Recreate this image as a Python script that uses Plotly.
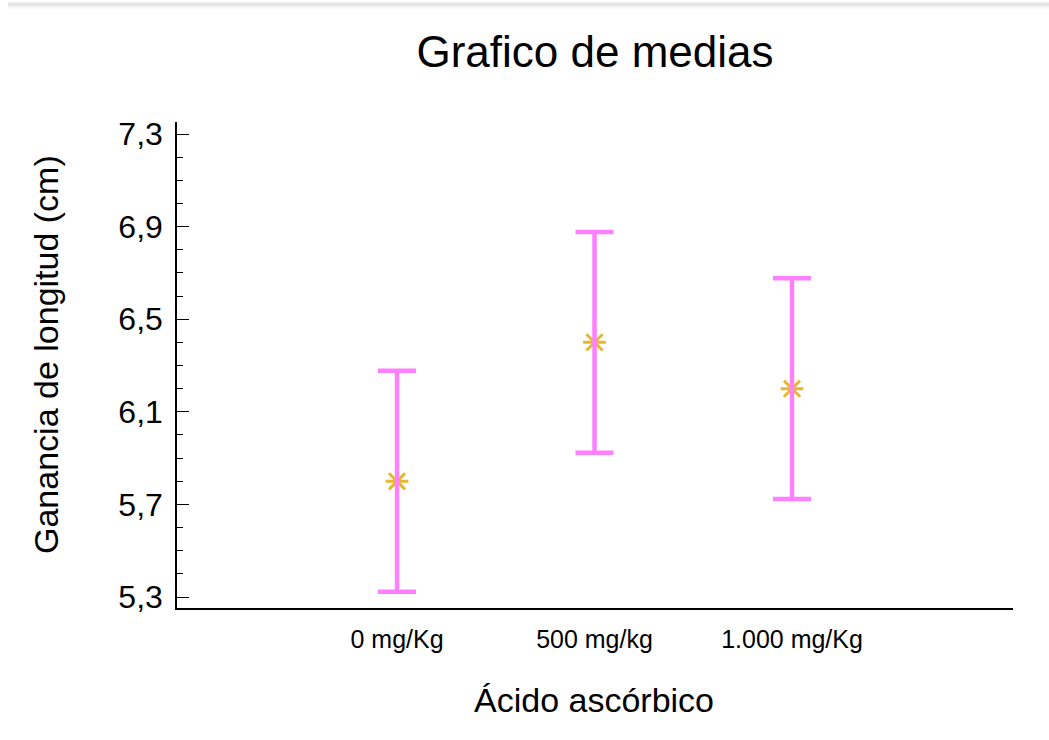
import plotly.graph_objects as go

# Means and LSD half-intervals for each ascorbic acid dose
categories = ["0 mg/Kg", "500 mg/kg", "1.000 mg/Kg"]
means = [5.80, 6.40, 6.20]
half_interval = [0.477, 0.477, 0.477]
y_ticks = [5.3, 5.7, 6.1, 6.5, 6.9, 7.3]

W, H = 1049, 740
L, R, T, B = 177, 36, 122, 132
plot_w, plot_h = W - L - R, H - T - B
pos = list(range(len(categories)))

fig = go.Figure()

# Mean markers
fig.add_trace(go.Scatter(
    x=pos, y=means, mode="markers",
    marker=dict(symbol="asterisk-open", size=19, color="#E6B830",
                line=dict(color="#E6B830", width=3)),
    showlegend=False, hoverinfo="skip",
))

# Interval bars drawn over the markers
fig.add_trace(go.Scatter(
    x=pos, y=means, mode="markers",
    marker=dict(size=1, color="rgba(0,0,0,0)"),
    error_y=dict(type="data", array=half_interval, visible=True,
                 color="#FF80FF", thickness=4.5, width=19),
    showlegend=False,
))

def px_x(p):
    return (p - L) / plot_w

def px_y(p):
    return (T + plot_h - p) / plot_h

# Soft shadow band along the top edge
shadow = [(2, "#f4f4f4"), (3, "#e8e8e8"), (4, "#dcdcdc"), (5, "#d8d8d8"),
          (6, "#e0e0e0"), (7, "#ececec"), (8, "#f6f6f6")]
shapes = []
for py, col in shadow:
    shapes.append(dict(type="line", xref="paper", yref="paper",
                       x0=px_x(8), x1=px_x(W), y0=px_y(py), y1=px_y(py),
                       line=dict(color=col, width=1)))

font = "Liberation Sans, Arial, sans-serif"

fig.update_layout(
    width=W, height=H,
    margin=dict(l=L, r=R, t=T, b=B),
    paper_bgcolor="white", plot_bgcolor="white",
    separators=",.",
    font=dict(family=font, color="black"),
    title=dict(text="Grafico de medias", x=(L + plot_w / 2) / W, xanchor="center",
               y=1 - 52 / H, yanchor="middle",
               font=dict(size=44, family=font, color="black")),
    xaxis=dict(
        range=[-1.114, 3.119], tickmode="array", tickvals=pos, ticktext=categories,
        showline=True, linecolor="black", linewidth=1.5, ticks="",
        showgrid=False, zeroline=False, tickfont=dict(size=25),
        ticklabelstandoff=8,
    ),
    yaxis=dict(
        range=[5.2525, 7.352], tickmode="array", tickvals=y_ticks,
        tickformat=".1f", showline=True, linecolor="black", linewidth=1.5,
        ticks="inside", ticklen=12, tickwidth=1.3, tickcolor="black",
        minor=dict(dtick=0.1, tick0=5.3, ticks="inside", ticklen=6,
                   tickwidth=1.3, tickcolor="black"),
        showgrid=False, zeroline=False, tickfont=dict(size=32),
        ticklabelstandoff=6,
    ),
    shapes=shapes,
    annotations=[
        dict(text="Ganancia de longitud (cm)", textangle=-90, xref="paper", yref="paper",
             x=px_x(46), y=px_y(355), xanchor="center", yanchor="middle",
             showarrow=False, font=dict(size=34)),
        dict(text="Ácido ascórbico", xref="paper", yref="paper",
             x=px_x(594), y=px_y(700), xanchor="center", yanchor="middle",
             showarrow=False, font=dict(size=34)),
    ],
)

fig.write_html("out.html")
